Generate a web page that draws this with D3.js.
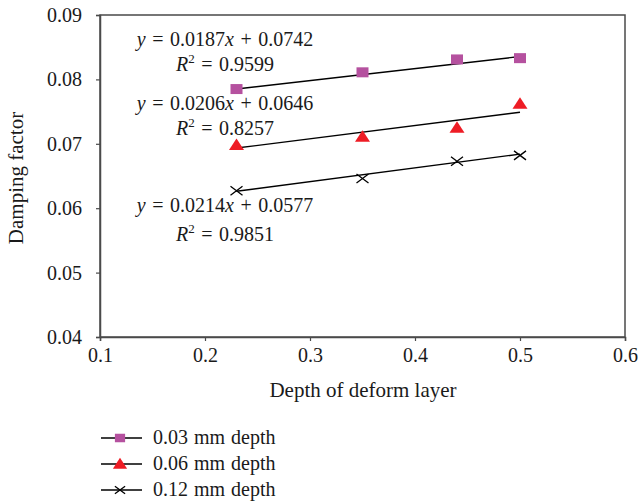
<!DOCTYPE html>
<html>
<head>
<meta charset="utf-8">
<script src="https://cdn.jsdelivr.net/npm/d3@7"></script>
<style>
  html, body { margin: 0; padding: 0; background: #fff; }
  svg { display: block; font-family: "Liberation Serif", "DejaVu Serif", serif; }
</style>
</head>
<body>
<svg id="chart" width="638" height="504"></svg>
<script>
// ---- data ----
const depths = [0.23, 0.35, 0.44, 0.5];
const seriesNames = ["0.03 mm depth", "0.06 mm depth", "0.12 mm depth"];
const values003 = [0.0785, 0.0811, 0.0831, 0.0833];
const values006 = [0.0698, 0.0711, 0.0725, 0.0762];
const values012 = [0.0627, 0.0646, 0.0673, 0.0682];
const slopes = [0.0187, 0.0206, 0.0214];
const intercepts = [0.0742, 0.0646, 0.0577];
const r2s = ["0.9599", "0.8257", "0.9851"];
const xTicks = [0.1, 0.2, 0.3, 0.4, 0.5, 0.6];
const yTicks = [0.04, 0.05, 0.06, 0.07, 0.08, 0.09];

const svg = d3.select("#chart");
const x = d3.scaleLinear().domain([0.1, 0.6]).range([100, 625]);
const y = d3.scaleLinear().domain([0.04, 0.09]).range([337, 15]);

const axisColor = "#4a4a4a";
const fontSize = 20;

// frame
svg.append("rect")
  .attr("x", x(0.1)).attr("y", y(0.09))
  .attr("width", x(0.6) - x(0.1)).attr("height", y(0.04) - y(0.09))
  .attr("fill", "none").attr("stroke", axisColor).attr("stroke-width", 1.5);

// axes
const xAxis = svg.append("g").attr("transform", `translate(0,${y(0.04)})`)
  .call(d3.axisBottom(x).tickValues(xTicks).tickFormat(d3.format(".1f")).tickSize(4).tickPadding(7));
const yAxis = svg.append("g").attr("transform", `translate(${x(0.1)},0)`)
  .call(d3.axisLeft(y).tickValues(yTicks).tickFormat(d3.format(".2f")).tickSize(4).tickPadding(14));
[xAxis, yAxis].forEach(g => {
  g.select(".domain").attr("stroke", axisColor).attr("stroke-width", 1.5);
  g.selectAll(".tick line").attr("stroke", axisColor).attr("stroke-width", 1.2);
  g.selectAll(".tick text").attr("fill", "#1a1a1a")
    .style("font-family", "Liberation Serif, serif").style("font-size", fontSize + "px");
});

// axis titles
svg.append("text").attr("x", 363).attr("y", 397).attr("text-anchor", "middle")
  .style("font-size", (fontSize + 1) + "px").attr("fill", "#1a1a1a").text("Depth of deform layer");
svg.append("text").attr("transform", "translate(23,178) rotate(-90)").attr("text-anchor", "middle")
  .style("font-size", (fontSize + 1) + "px").attr("fill", "#1a1a1a").text("Damping factor");

// series
const series = [
  { name: seriesNames[0], vals: values003, shape: "square", color: "#b5519f" },
  { name: seriesNames[1], vals: values006, shape: "triangle", color: "#ee1c25" },
  { name: seriesNames[2], vals: values012, shape: "cross", color: "#000" }
];

function drawMarker(g, shape, color, cx, cy, scale) {
  const s = scale || 1;
  if (shape === "square") {
    g.append("rect").attr("x", cx - 6 * s).attr("y", cy - 5 * s)
      .attr("width", 12 * s).attr("height", 10 * s).attr("fill", color);
  } else if (shape === "triangle") {
    g.append("path")
      .attr("d", `M${cx},${cy - 6.5 * s} L${cx + 7.5 * s},${cy + 5 * s} L${cx - 7.5 * s},${cy + 5 * s} Z`)
      .attr("fill", color);
  } else {
    g.append("path")
      .attr("d", `M${cx - 6 * s},${cy - 4.5 * s} L${cx + 6 * s},${cy + 4.5 * s} M${cx - 6 * s},${cy + 4.5 * s} L${cx + 6 * s},${cy - 4.5 * s}`)
      .attr("stroke", color).attr("stroke-width", 1.3).attr("fill", "none");
  }
}

// trendlines
series.forEach((s, i) => {
  const x0 = d3.min(depths), x1 = d3.max(depths);
  svg.append("line")
    .attr("x1", x(x0)).attr("y1", y(slopes[i] * x0 + intercepts[i]))
    .attr("x2", x(x1)).attr("y2", y(slopes[i] * x1 + intercepts[i]))
    .attr("stroke", "#000").attr("stroke-width", 1.4);
});

// markers
const mg = svg.append("g");
series.forEach(s => {
  s.vals.forEach((v, j) => drawMarker(mg, s.shape, s.color, x(depths[j]), y(v)));
});

// equations
const eqPos = [[46, 71], [110, 135], [212, 241]];
eqPos.forEach((p, i) => {
  const t1 = svg.append("text").attr("x", 225).attr("y", p[0]).attr("text-anchor", "middle")
    .style("font-size", fontSize + "px").style("word-spacing", "1.5px").attr("fill", "#1a1a1a");
  t1.append("tspan").style("font-style", "italic").text("y");
  t1.append("tspan").text(" = " + slopes[i].toFixed(4));
  t1.append("tspan").style("font-style", "italic").text("x");
  t1.append("tspan").text(" + " + intercepts[i].toFixed(4));
  const t2 = svg.append("text").attr("x", 225).attr("y", p[1]).attr("text-anchor", "middle")
    .style("font-size", fontSize + "px").style("word-spacing", "1.5px").attr("fill", "#1a1a1a");
  t2.append("tspan").style("font-style", "italic").text("R");
  t2.append("tspan").attr("dy", -8).style("font-size", "13px").text("2");
  t2.append("tspan").attr("dy", 8).text(" = " + r2s[i]);
});

// legend
const legY = [438, 464, 490];
series.forEach((s, i) => {
  const g = svg.append("g");
  g.append("line").attr("x1", 101).attr("x2", 142).attr("y1", legY[i]).attr("y2", legY[i])
    .attr("stroke", "#000").attr("stroke-width", 1.3);
  drawMarker(g, s.shape, s.color, 120, legY[i], s.shape === "triangle" ? 0.95 : 0.85);
  g.append("text").attr("x", 153).attr("y", legY[i] + 6)
    .style("font-size", fontSize + "px").style("word-spacing", "1px").attr("fill", "#1a1a1a").text(s.name);
});
</script>
</body>
</html>
